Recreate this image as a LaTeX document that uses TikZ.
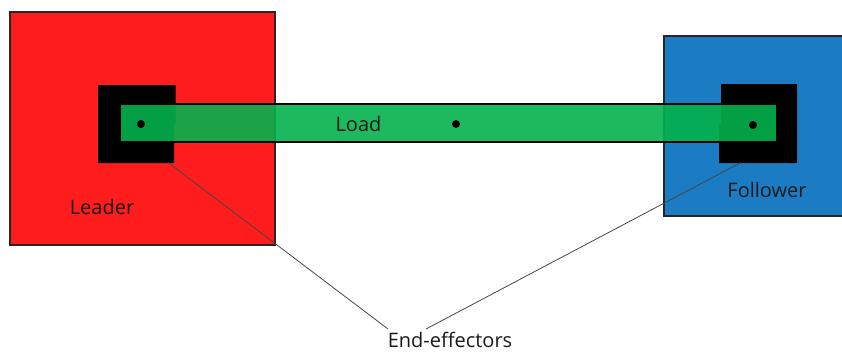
\documentclass[tikz,border=0pt]{standalone}
\usepackage{fontspec}
\setmainfont{Open Sans}
\definecolor{leaderred}{RGB}{255,28,28}
\definecolor{followerblue}{RGB}{27,124,196}
\definecolor{loadgreen}{RGB}{4,177,76}
\definecolor{textdark}{RGB}{25,25,25}
\definecolor{leadgray}{RGB}{70,70,70}
\begin{document}
\begin{tikzpicture}[x=1pt,y=-1pt,
  robot/.style={draw=black!85,line width=1.5pt},
  effector/.style={fill=black},
  loadbar/.style={fill=loadgreen,fill opacity=0.9,draw=black,line width=1.4pt},
  grip/.style={fill=black,circle,inner sep=0pt,minimum size=8pt},
  label/.style={text=textdark,font=\fontsize{20}{24}\selectfont,inner sep=0pt},
  leader line/.style={draw=leadgray,line width=0.8pt}]
  \useasboundingbox (0,0) rectangle (842,351);
  % leader and follower robots
  \filldraw[robot,fill=leaderred] (10,12) rectangle (275,245);
  \filldraw[robot,fill=followerblue] (664,36) rectangle (850,216);
  % end-effectors
  \fill[effector] (98,85) rectangle (175.5,124) (98,124) rectangle (174,163);
  \fill[effector] (721,84) rectangle (797,124) (719,124) rectangle (797,163);
  \coordinate (eeL) at (168,162.5);
  \coordinate (eeR) at (741,162.5);
  % load carried between them
  \filldraw[loadbar] (120,104) rectangle (776.5,142);
  \node[grip] (gL) at (141,124) {};
  \node[grip] (gM) at (456,124) {};
  \node[grip] (gR) at (753,125) {};
  % labels
  \node[label] (load) at (358.5,124) {Load};
  \node[label] (leader) at (102,207) {Leader};
  \node[label] (follower) at (767,190) {Follower};
  \node[label,anchor=north] (ee) at (450,332) {End-effectors};
  \coordinate (eeTL) at (388,329);
  \coordinate (eeTR) at (426,329);
  \draw[leader line] (eeL) -- (eeTL);
  \draw[leader line] (eeR) -- (eeTR);
\end{tikzpicture}
\end{document}
